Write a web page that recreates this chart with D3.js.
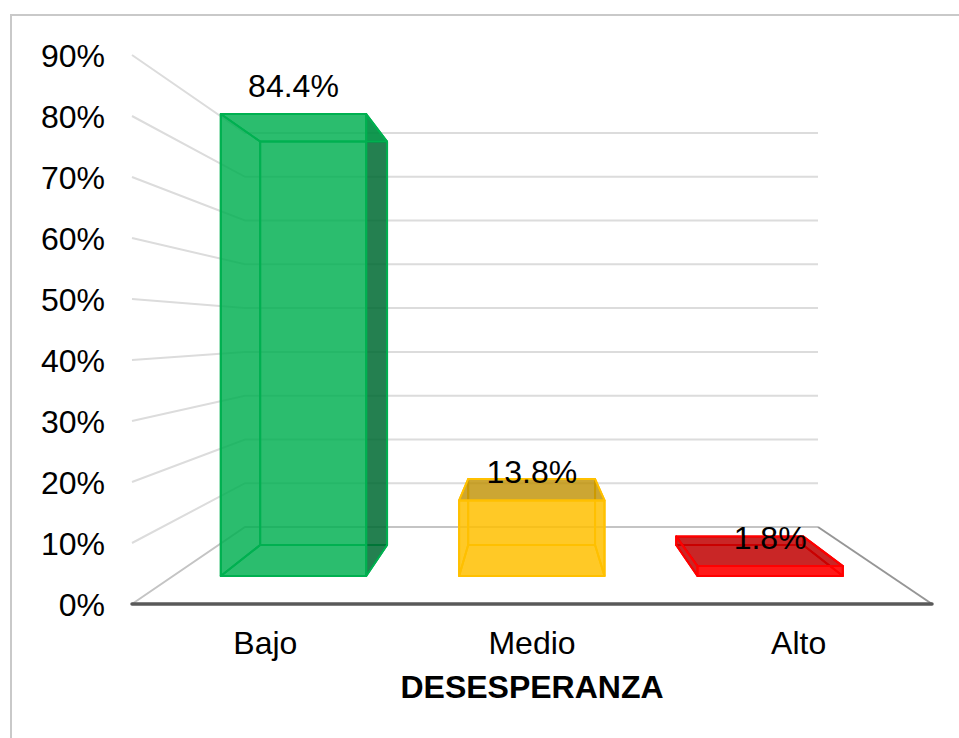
<!DOCTYPE html>
<html>
<head>
<meta charset="utf-8">
<title>DESESPERANZA</title>
<script src="https://cdn.jsdelivr.net/npm/d3@7"></script>
<style>
  html, body { margin: 0; padding: 0; background: #fff; }
  svg { display: block; }
  text { font-family: "Liberation Sans", Arial, sans-serif; fill: #000; }
</style>
</head>
<body>
<div id="chart"></div>
<script>
// data
const categories = ["Bajo", "Medio", "Alto"];
const values = [84.4, 13.8, 1.8];
const labels = ["84.4%", "13.8%", "1.8%"];
const tickValues = [0, 10, 20, 30, 40, 50, 60, 70, 80, 90];
const axisTitle = "DESESPERANZA";

const width = 959, height = 738;
const fontSize = 32;

// bar colours: edge, front face, faces seen from outside the front
const edgeColors = ["#00B050", "#FFC000", "#FF0000"];
const frontFills = ["#00B050", "#FFC000", "#FF0000"];
const frontOpacity = [0.83, 0.85, 0.9];
const darkFills = ["#006B33", "#BF9000", "#C00000"];
const darkOpacity = [0.86, 0.8, 0.85];

// floor corners of the 3D box
const box = { left: 132, right: 932, backLeft: 245, backRight: 818, front: 604, back: 527, top: 55, backTop: 133 };
const depthFront = 0.364, depthBack = 0.766; // where the bars stand on the floor

const yFront = d3.scaleLinear().domain([0, 90]).range([box.front, box.top]);
const yBack = d3.scaleLinear().domain([0, 90]).range([box.back, box.backTop]);
const leftAt = d3.scaleLinear().domain([0, 1]).range([box.left, box.backLeft]);
const rightAt = d3.scaleLinear().domain([0, 1]).range([box.right, box.backRight]);
const band = d3.scaleBand().domain(categories).range([0, 1]).paddingInner(0.39).paddingOuter(0.2);

// u: across the floor 0..1, v: value, t: depth 0..1
function project(u, v, t) {
  const l = leftAt(t), r = rightAt(t);
  return [l + u * (r - l), yFront(v) + t * (yBack(v) - yFront(v))];
}

const svg = d3.select("#chart").append("svg").attr("width", width).attr("height", height);

// picture frame
svg.append("path")
  .attr("d", `M11,${height}V15H${width}`)
  .attr("fill", "none")
  .attr("stroke", "#c9c9c9")
  .attr("stroke-width", 2);

// walls
const line = d3.line();
const grid = svg.append("g").attr("fill", "none");
tickValues.forEach((v) => {
  grid.append("path")
    .attr("d", line([project(0, v, 0), project(0, v, 1), project(1, v, 1)]))
    .attr("stroke", v === 0 ? "#c4c4c4" : "#dcdcdc")
    .attr("stroke-width", 2);
});
grid.append("path")
  .attr("d", line([project(1, 0, 1), project(1, 0, 0)]))
  .attr("stroke", "#969696")
  .attr("stroke-width", 2);
grid.append("path")
  .attr("d", line([project(0, 0, 0), project(1, 0, 0)]))
  .attr("stroke", "#595959")
  .attr("stroke-width", 3.5)
  .attr("stroke-linecap", "round");

// bars
const bars = svg.selectAll("g.bar").data(categories).join("g").attr("class", "bar");
bars.each(function (c, i) {
  const g = d3.select(this);
  const u0 = band(c), u1 = u0 + band.bandwidth();
  const v = values[i];
  const p = project;

  const faces = {
    back: [p(u0, 0, depthBack), p(u1, 0, depthBack), p(u1, v, depthBack), p(u0, v, depthBack)],
    bottom: [p(u0, 0, depthFront), p(u1, 0, depthFront), p(u1, 0, depthBack), p(u0, 0, depthBack)],
    left: [p(u0, 0, depthFront), p(u0, v, depthFront), p(u0, v, depthBack), p(u0, 0, depthBack)],
    right: [p(u1, 0, depthFront), p(u1, v, depthFront), p(u1, v, depthBack), p(u1, 0, depthBack)],
    top: [p(u0, v, depthFront), p(u1, v, depthFront), p(u1, v, depthBack), p(u0, v, depthBack)],
  };
  // a side only shows dark when it sticks out past the front face
  const dark = {
    back: false,
    bottom: false,
    left: p(u0, 0, depthBack)[0] < p(u0, 0, depthFront)[0],
    right: p(u1, 0, depthBack)[0] > p(u1, 0, depthFront)[0],
    top: p(u0, v, depthBack)[1] < p(u0, v, depthFront)[1],
  };

  Object.keys(faces).forEach((k) => {
    g.append("path")
      .attr("d", line(faces[k]) + "Z")
      .attr("fill", dark[k] ? darkFills[i] : "none")
      .attr("fill-opacity", darkOpacity[i])
      .attr("stroke", edgeColors[i])
      .attr("stroke-width", 2)
      .attr("stroke-linejoin", "round");
  });

  // top seen from below: only the corner past the front face shows, lighter
  if (!dark.top && dark.right) {
    const a = p(u1, v, depthFront), b = p(u1, v, depthBack);
    g.append("path")
      .attr("d", line([a, b, [a[0], b[1]]]) + "Z")
      .attr("fill", edgeColors[i])
      .attr("fill-opacity", 0.5);
  }

  g.append("path")
    .attr("d", line([p(u0, 0, depthFront), p(u1, 0, depthFront), p(u1, v, depthFront), p(u0, v, depthFront)]) + "Z")
    .attr("fill", frontFills[i])
    .attr("fill-opacity", frontOpacity[i])
    .attr("stroke", edgeColors[i])
    .attr("stroke-width", 2)
    .attr("stroke-linejoin", "round");
});

// data labels sit just above the front top edge
svg.selectAll("text.value").data(categories).join("text")
  .attr("class", "value")
  .attr("text-anchor", "middle")
  .attr("font-size", fontSize)
  .attr("x", (c) => project(band(c) + band.bandwidth() / 2, 0, depthFront)[0])
  .attr("y", (c, i) => project(0, values[i], depthFront)[1] - 17)
  .text((c, i) => labels[i]);

// value axis
const yAxis = d3.axisLeft(yFront).tickValues(tickValues).tickSize(0).tickPadding(27).tickFormat((d) => d + "%");
const yG = svg.append("g").attr("transform", `translate(${box.left},1.2)`).call(yAxis);
yG.select(".domain").remove();
yG.selectAll("text").attr("font-size", fontSize).attr("font-family", null);

// category axis
const xFloor = d3.scaleBand().domain(categories).range([box.left, box.right]);
const xAxis = d3.axisBottom(xFloor).tickSize(0).tickPadding(27);
const xG = svg.append("g").attr("transform", `translate(0,${box.front})`).call(xAxis);
xG.select(".domain").remove();
xG.selectAll("text").attr("font-size", fontSize).attr("font-family", null);

svg.append("text")
  .attr("x", 532)
  .attr("y", 698)
  .attr("text-anchor", "middle")
  .attr("font-size", fontSize)
  .attr("font-weight", "bold")
  .text(axisTitle);
</script>
</body>
</html>
